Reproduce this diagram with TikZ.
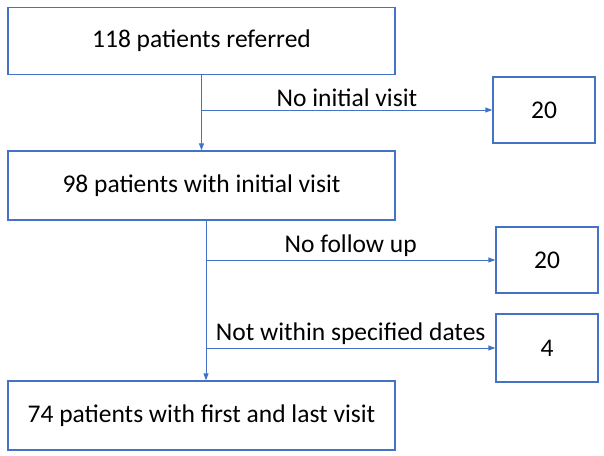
\documentclass[tikz,border=0pt]{standalone}
\usepackage{fontspec}
\setmainfont{Carlito}
\usetikzlibrary{arrows.meta,positioning,calc}
\definecolor{flowblue}{RGB}{68,114,196}

\begin{document}
\begin{tikzpicture}[x=1pt,y=-1pt,
    box/.style={draw=flowblue,line width=1.3pt,fill=white,minimum width=387pt,minimum height=67pt,font=\fontsize{25.5}{30}\selectfont},
    countbox/.style={box,minimum width=102pt},
    flow/.style={draw=flowblue,line width=0.9pt,-{Triangle[length=7pt,width=5pt]}},
    lbl/.style={font=\fontsize{25.5}{30}\selectfont,above,inner sep=2.5pt}]
\useasboundingbox (0,0) rectangle (604,455);
% main column
\node[box] (referred) at (201.5,41) {118 patients referred};
\node[box,minimum height=69pt] (initial) at (201.5,185.5) {98 patients with initial visit};
\node[box,minimum height=69pt] (final) at (201.5,415.5) {74 patients with first and last visit};
% excluded counts
\node[countbox,minimum height=66pt] (novisit) at (544,110) {20};
\node[countbox,minimum height=66pt] (nofollow) at (547,260) {20};
\node[countbox,minimum height=68pt] (nodates) at (547,348) {4};
% junctions on the vertical lines
\coordinate (j1) at (referred.south |- novisit.west);
\coordinate (s2) at ([xshift=4.5pt]initial.south);
\coordinate (e2) at ([xshift=4.5pt]final.north);
\coordinate (j2) at (s2 |- nofollow.west);
\coordinate (j3) at (s2 |- nodates.west);
\draw[flow] (referred) -- (initial);
\draw[flow] (j1) -- node[lbl] {No initial visit} (novisit);
\draw[flow] (s2) -- (e2);
\draw[flow] (j2) -- node[lbl] {No follow up} (nofollow);
\draw[flow] (j3) -- node[lbl] {Not within specified dates} (nodates);
\end{tikzpicture}
\end{document}
